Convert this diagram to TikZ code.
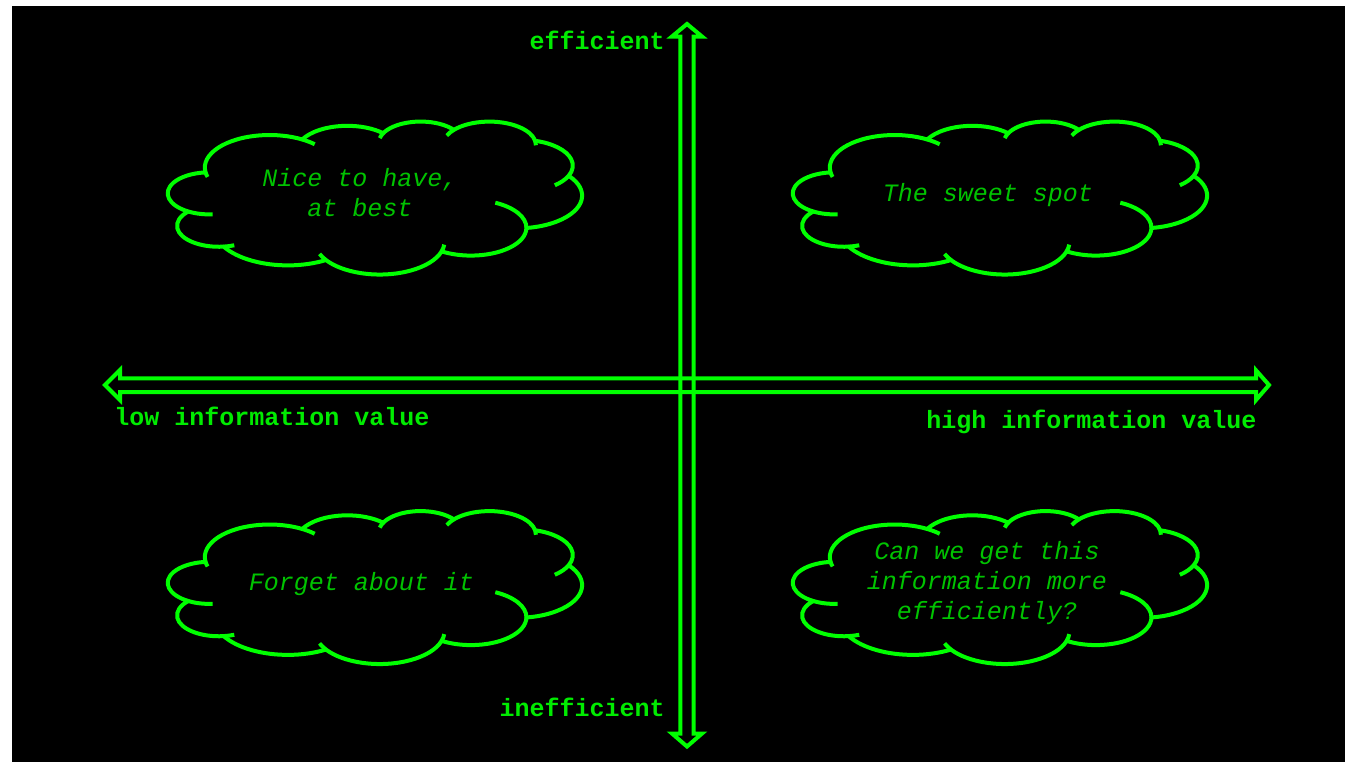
\documentclass[tikz,border=0pt]{standalone}
\usepackage{fontspec}
\setmonofont{Liberation Mono}
\usepackage{xcolor}
\usepackage{tikz}
\usetikzlibrary{positioning,calc}

\definecolor{axisgreen}{RGB}{0,255,0}
\definecolor{labelgreen}{RGB}{0,235,0}
\definecolor{thoughtgreen}{RGB}{0,195,0}

% cloud outline, drawn round the pic origin (414 x 153 px)
\tikzset{
  pics/thoughtcloud/.style={code={
    \begin{scope}[x=0.019167cm, y=-0.0070833cm, shift={(-216,-216)}]
      \draw[cloudline] (39.00,143.70)
        arc[start angle=172.26, end angle=300.36, x radius=67.53, y radius=91.90]
        arc[start angle=-152.02, end angle=-45.44, x radius=53.33, y radius=72.67]
        arc[start angle=-153.48, end angle=-37.33, x radius=43.65, y radius=59.45]
        arc[start angle=-139.71, end angle=-10.21, x radius=48.57, y radius=65.95]
        arc[start angle=-74.77, end angle=23.21, x radius=53.33, y radius=72.73]
        arc[start angle=-37.53, end angle=81.86, x radius=67.75, y radius=92.20]
        arc[start angle=0.46, end angle=121.97, x radius=57.85, y radius=78.67]
        arc[start angle=16.84, end angle=146.23, x radius=67.52, y radius=92.15]
        arc[start angle=58.98, end angle=150.19, x radius=77.20, y radius=105.43]
        arc[start angle=83.30, end angle=223.09, x radius=43.60, y radius=59.18]
        arc[start angle=120.37, end angle=264.11, x radius=43.45, y radius=59.45]
        -- cycle;
      % inner tails
      \draw[cloudline] (43.07,204.27) ++(85.54:43.45 and 59.45)
        arc[start angle=85.54, end angle=120.37, x radius=43.45, y radius=59.45];
      \draw[cloudline] (52.95,295.99) ++(68.26:43.60 and 59.18)
        arc[start angle=68.26, end angle=83.30, x radius=43.60, y radius=59.18];
      \draw[cloudline] (220.96,341.48) ++(146.23:67.52 and 92.15)
        arc[start angle=146.23, end angle=158.48, x radius=67.52, y radius=92.15];
      \draw[cloudline] (220.96,341.48) ++(4.74:67.52 and 92.15)
        arc[start angle=4.74, end angle=16.84, x radius=67.52, y radius=92.15];
      \draw[cloudline] (316.21,301.43) ++(-64.01:57.85 and 78.67)
        arc[start angle=-64.01, end angle=0.46, x radius=57.85, y radius=78.67];
      \draw[cloudline] (369.18,125.96) ++(23.21:53.33 and 72.73)
        arc[start angle=23.21, end angle=49.69, x radius=53.33, y radius=72.73];
      \draw[cloudline] (335.39,67.48) ++(-10.21:48.57 and 65.95)
        arc[start angle=-10.21, end angle=0.82, x radius=48.57, y radius=65.95];
      \draw[cloudline] (335.39,67.48) ++(-156.28:48.57 and 65.95)
        arc[start angle=-156.28, end angle=-139.71, x radius=48.57, y radius=65.95];
      \draw[cloudline] (263.63,60.89) ++(-167.73:43.65 and 59.45)
        arc[start angle=-167.73, end angle=-153.48, x radius=43.65, y radius=59.45];
      \draw[cloudline] (105.91,131.32) ++(-59.64:67.53 and 91.90)
        arc[start angle=-59.64, end angle=-45.72, x radius=67.53, y radius=91.90];
      \draw[cloudline] (105.91,131.32) ++(163.19:67.53 and 91.90)
        arc[start angle=163.19, end angle=172.26, x radius=67.53, y radius=91.90];
    \end{scope}
  }}
}

\begin{document}
\begin{tikzpicture}[
  x=0.02cm, y=-0.02cm,
  axisline/.style={draw=axisgreen, line width=0.08cm, line join=miter},
  cloudline/.style={draw=axisgreen, line width=0.08cm, line join=round},
  axislabel/.style={text=labelgreen, inner sep=0pt,
              font=\fontsize{14.23pt}{17.07pt}\selectfont\ttfamily\bfseries},
  thought/.style={text=thoughtgreen, inner sep=0pt, align=center,
              font=\fontsize{14.23pt}{17.07pt}\selectfont\ttfamily\itshape}
]
\useasboundingbox (0,0) rectangle (1345,762);
\fill[white] (0,0) rectangle (1345,762);
\fill[black] (12,6) rectangle (1345,762);

\coordinate (lowend) at (105,385);
\coordinate (highend) at (1269,385);
\coordinate (topend) at (687,24);
\coordinate (bottomend) at (687,746.5);

% hollow double-headed axes
\draw[axisline] (lowend) -- ++(15,-15) -- ++(0,8.3)
  -- ($(highend)+(-13,-6.7)$) -- ++(0,-8) -- (highend) -- ++(-13,15)
  -- ++(0,-8) -- ($(lowend)+(15,7)$) -- ++(0,8) -- cycle;
\draw[axisline] (topend) -- ++(15,12.5) -- ++(-8.3,0)
  -- ($(bottomend)+(6.7,-13)$) -- ++(8.3,0) -- (bottomend) -- ++(-15,-13)
  -- ++(8.3,0) -- ($(topend)+(-6.7,12.5)$) -- ++(-8.3,0) -- cycle;

\node[axislabel, anchor=base east] (efflabel)   at (665,49)  {efficient};
\node[axislabel, anchor=base east] (inefflabel) at (665,716) {inefficient};
\node[axislabel, anchor=base west] (lowlabel)   at (114,425) {low information value};
\node[axislabel, anchor=base west] (highlabel)  at (926,428) {high information value};

\pic at (375,197.5) {thoughtcloud};
\pic at (1000,197.5) {thoughtcloud};
\pic at (375,587) {thoughtcloud};
\pic at (1000,587) {thoughtcloud};

\node[thought] (nicetohave) at (360,193) {Nice to have,\\at best};
\node[thought, anchor=base] (sweetspot) at (988,201) {The sweet spot};
\node[thought, anchor=base] (forgetit) at (361.5,590) {Forget about it};
\node[thought] (moreefficient) at (987,583) {Can we get this\\information more\\efficiently?};
\end{tikzpicture}
\end{document}
